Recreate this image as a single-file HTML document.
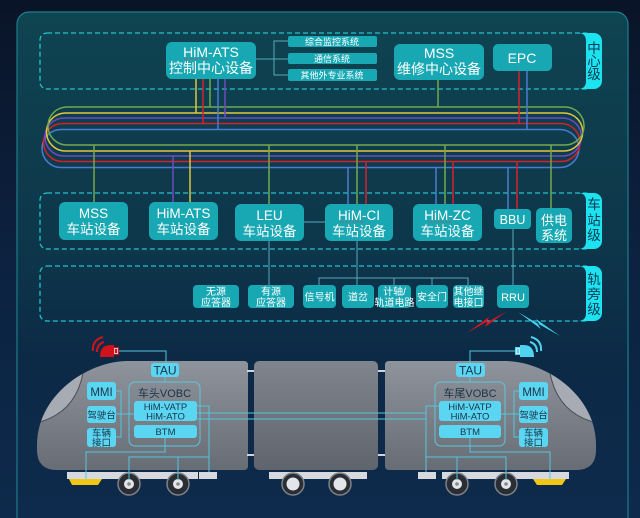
<!DOCTYPE html>
<html><head><meta charset="utf-8">
<style>
html,body{margin:0;padding:0;background:#0a1630;}
svg{display:block;}
text{font-family:"Liberation Sans","Noto Sans CJK SC",sans-serif;}
</style></head>
<body>
<svg width="640" height="518" viewBox="0 0 640 518" xmlns="http://www.w3.org/2000/svg">
<defs>
<linearGradient id="bg" x1="0" y1="0" x2="0" y2="1">
<stop offset="0" stop-color="#0a1428"/><stop offset="0.5" stop-color="#0c2240"/><stop offset="1" stop-color="#0d2a4c"/>
</linearGradient>
<linearGradient id="panel" x1="0" y1="0" x2="0" y2="1">
<stop offset="0" stop-color="#0f4451"/><stop offset="0.45" stop-color="#0d364a"/><stop offset="0.65" stop-color="#0c2a46"/><stop offset="1" stop-color="#0e2a4d"/>
</linearGradient>
<linearGradient id="car" x1="0" y1="0" x2="0" y2="1">
<stop offset="0" stop-color="#8f949c"/><stop offset="1" stop-color="#676c75"/>
</linearGradient>
<linearGradient id="car2" x1="0" y1="0" x2="0" y2="1">
<stop offset="0" stop-color="#7f848d"/><stop offset="1" stop-color="#5f646d"/>
</linearGradient>
<clipPath id="c1"><path d="M128 361 H244 Q248 361 248 365 V466 Q248 470 244 470 H57 Q37 470 37 450 V445 C37 395 88 361 128 361 Z"/></clipPath>
<clipPath id="c3"><path d="M505 361 H389 Q385 361 385 365 V466 Q385 470 389 470 H576 Q596 470 596 450 V445 C596 395 545 361 505 361 Z"/></clipPath>
</defs>

<rect width="640" height="518" fill="url(#bg)"/>
<rect x="17" y="12" width="611" height="530" rx="12" fill="url(#panel)" stroke="#1b7d8c" stroke-width="1.2"/>

<!-- dashed level boxes -->
<g fill="none" stroke="#22c3cf" stroke-width="1.3" stroke-dasharray="5 3">
<rect x="40" y="33" width="552" height="56" rx="7"/>
<rect x="40" y="193" width="552" height="56" rx="7"/>
<rect x="40" y="266" width="552" height="55" rx="7"/>
</g>
<!-- tabs -->
<g fill="#1de3f0">
<path d="M578 33 H594 A8 8 0 0 1 602 41 V81 A8 8 0 0 1 594 89 H578 Q586 89 586 81 V41 Q586 33 578 33 Z"/>
<path d="M578 193 H594 A8 8 0 0 1 602 201 V241 A8 8 0 0 1 594 249 H578 Q586 249 586 241 V201 Q586 193 578 193 Z"/>
<path d="M578 266 H594 A8 8 0 0 1 602 274 V313 A8 8 0 0 1 594 321 H578 Q586 321 586 313 V274 Q586 266 578 266 Z"/>
</g>
<g fill="#0b3a55" font-size="13.5" text-anchor="middle">
<text x="594" y="53">中</text><text x="594" y="66">心</text><text x="594" y="79">级</text>
<text x="594" y="209">车</text><text x="594" y="225">站</text><text x="594" y="240">级</text>
<text x="594" y="284">轨</text><text x="594" y="299">旁</text><text x="594" y="314">级</text>
</g>

<!-- loops -->
<g fill="none" stroke-width="1.5">
<path stroke="#4b7bd0" d="M61 129.5 H560 A19 19 0 0 1 560 167.5 H61 A19 19 0 0 1 61 129.5 Z"/>
<path stroke="#d81f2c" d="M62.5 123.5 H561 A19 19 0 0 1 561 161.5 H62.5 A19 19 0 0 1 62.5 123.5 Z"/>
<path stroke="#6d4bc0" d="M64 118 H562.4 A19 19 0 0 1 562.4 156 H64 A19 19 0 0 1 64 118 Z"/>
<path stroke="#e3c53c" d="M65.5 113 H563.7 A19 19 0 0 1 563.7 151 H65.5 A19 19 0 0 1 65.5 113 Z"/>
<path stroke="#72a94c" d="M67 107 H565 A19 19 0 0 1 565 145 H67 A19 19 0 0 1 67 107 Z"/>
</g>

<!-- vertical drops -->
<g stroke-width="1.5" fill="none">
<!-- center -->
<line x1="196" y1="79" x2="196" y2="113" stroke="#e3c53c"/>
<line x1="203" y1="79" x2="203" y2="123.5" stroke="#d81f2c"/>
<line x1="210" y1="79" x2="210" y2="107" stroke="#72a94c"/>
<line x1="218" y1="79" x2="218" y2="129.5" stroke="#4b7bd0"/>
<line x1="225" y1="79" x2="225" y2="118" stroke="#6d4bc0"/>
<line x1="438" y1="80" x2="438" y2="107" stroke="#72a94c"/>
<line x1="519" y1="71" x2="519" y2="123.5" stroke="#d81f2c"/>
<line x1="527" y1="71" x2="527" y2="129.5" stroke="#4b7bd0"/>
<!-- station -->
<line x1="94" y1="145" x2="94" y2="202" stroke="#72a94c"/>
<line x1="173" y1="156" x2="173" y2="202" stroke="#6d4bc0"/>
<line x1="190" y1="151" x2="190" y2="202" stroke="#e3c53c"/>
<line x1="269" y1="145" x2="269" y2="204" stroke="#72a94c"/>
<line x1="348" y1="167.5" x2="348" y2="204" stroke="#4b7bd0"/>
<line x1="357" y1="145" x2="357" y2="204" stroke="#72a94c"/>
<line x1="366" y1="161.5" x2="366" y2="204" stroke="#d81f2c"/>
<line x1="436" y1="167.5" x2="436" y2="204" stroke="#4b7bd0"/>
<line x1="445" y1="145" x2="445" y2="204" stroke="#72a94c"/>
<line x1="453" y1="161.5" x2="453" y2="204" stroke="#d81f2c"/>
<line x1="508" y1="167.5" x2="508" y2="209" stroke="#4b7bd0"/>
<line x1="517" y1="161.5" x2="517" y2="209" stroke="#d81f2c"/>
<line x1="551" y1="145" x2="551" y2="208" stroke="#72a94c"/>
</g>

<!-- thin connectors -->
<g stroke="#5aa9b8" stroke-width="1" fill="none">
<polyline points="256,59 274,59"/>
<polyline points="288,41 274,41 274,75 288,75"/>
<line x1="274" y1="59" x2="288" y2="59"/>
<line x1="304" y1="222" x2="325" y2="222"/>
<line x1="269" y1="241" x2="269" y2="285"/>
<line x1="357" y1="241" x2="357" y2="285"/>
<polyline points="319,285 319,278 468,278 468,285"/>
<line x1="394" y1="278" x2="394" y2="285"/>
<line x1="432" y1="278" x2="432" y2="285"/>
<line x1="513" y1="229" x2="513" y2="285"/>
</g>

<!-- center boxes -->
<g fill="#18a8b4">
<rect x="166" y="42" width="90" height="37" rx="6"/>
<rect x="394" y="44" width="90" height="36" rx="6"/>
<rect x="493" y="44" width="59" height="27" rx="5"/>
<rect x="288" y="36" width="89" height="11" rx="2"/>
<rect x="288" y="53" width="89" height="11" rx="2"/>
<rect x="288" y="69" width="89" height="12" rx="2"/>
</g>
<g fill="#fff" text-anchor="middle">
<text x="211" y="57" font-size="14">HiM-ATS</text>
<text x="211" y="73" font-size="14">控制中心设备</text>
<text x="439" y="58" font-size="14">MSS</text>
<text x="439" y="74" font-size="14">维修中心设备</text>
<text x="522" y="63" font-size="14">EPC</text>
<text x="332" y="45" font-size="9">综合监控系统</text>
<text x="332" y="62" font-size="9">通信系统</text>
<text x="332" y="78.5" font-size="9">其他外专业系统</text>
</g>

<!-- station boxes -->
<g fill="#18a8b4">
<rect x="59" y="202" width="69" height="38" rx="6"/>
<rect x="149" y="202" width="69" height="38" rx="6"/>
<rect x="235" y="204" width="69" height="37" rx="6"/>
<rect x="325" y="204" width="68" height="37" rx="6"/>
<rect x="413" y="204" width="69" height="37" rx="6"/>
<rect x="494" y="209" width="37" height="20" rx="4"/>
<rect x="536" y="208" width="36" height="35" rx="5"/>
</g>
<g fill="#fff" text-anchor="middle" font-size="13.5">
<text x="93.5" y="218">MSS</text><text x="93.5" y="234">车站设备</text>
<text x="183.5" y="218">HiM-ATS</text><text x="183.5" y="234">车站设备</text>
<text x="269.5" y="220">LEU</text><text x="269.5" y="236">车站设备</text>
<text x="359" y="220">HiM-CI</text><text x="359" y="236">车站设备</text>
<text x="447.5" y="220">HiM-ZC</text><text x="447.5" y="236">车站设备</text>
<text x="512.5" y="224" font-size="12.5">BBU</text>
<text x="554" y="225" font-size="13">供电</text><text x="554" y="240" font-size="13">系统</text>
</g>
<!-- spellcheck squiggles -->
<g stroke="#d04040" stroke-width="0.8" fill="none" stroke-dasharray="1.5 1">
<line x1="184" y1="59" x2="208" y2="59"/>
<line x1="340" y1="222" x2="364" y2="222"/>
<line x1="428" y1="222" x2="452" y2="222"/>
</g>

<!-- trackside boxes -->
<g fill="#18a8b4">
<rect x="193" y="285" width="46" height="23" rx="4"/>
<rect x="248" y="285" width="46" height="23" rx="4"/>
<rect x="303" y="285" width="33" height="23" rx="4"/>
<rect x="342" y="285" width="32" height="23" rx="4"/>
<rect x="378" y="285" width="33" height="23" rx="4"/>
<rect x="416" y="285" width="32" height="23" rx="4"/>
<rect x="453" y="285" width="31" height="23" rx="4"/>
<rect x="497" y="285" width="32" height="23" rx="4"/>
</g>
<g fill="#fff" text-anchor="middle" font-size="10">
<text x="216" y="295">无源</text><text x="216" y="306">应答器</text>
<text x="271" y="295">有源</text><text x="271" y="306">应答器</text>
<text x="319.5" y="300.5">信号机</text>
<text x="358" y="300.5">道岔</text>
<text x="394.5" y="295">计轴/</text><text x="394.5" y="306">轨道电路</text>
<text x="432" y="300.5">安全门</text>
<text x="468.5" y="295">其他继</text><text x="468.5" y="306">电接口</text>
<text x="513" y="301" font-size="11">RRU</text>
</g>

<!-- bolts -->
<path d="M467 333 L489 317 L486 323 L507 311 L485 327 L488 321 Z" fill="#e0141e"/>
<path d="M518 312 L540 325 L536 319 L560 336 L537 323 L541 329 Z" fill="#45d4f0"/>

<!-- train car 1 -->
<path d="M128 361 H244 Q248 361 248 365 V466 Q248 470 244 470 H57 Q37 470 37 450 V445 C37 395 88 361 128 361 Z" fill="url(#car)"/>
<path clip-path="url(#c1)" d="M92 360 L28 360 L28 426 L43 421 Q76 410 83 373 Z" fill="#a7abb3" stroke="#4a4e55" stroke-width="1"/>
<!-- car 2 -->
<rect x="254" y="361" width="124" height="109" rx="5" fill="url(#car2)"/>
<!-- car 3 -->
<path d="M505 361 H389 Q385 361 385 365 V466 Q385 470 389 470 H576 Q596 470 596 450 V445 C596 395 545 361 505 361 Z" fill="url(#car)"/>
<path clip-path="url(#c3)" d="M541 360 L605 360 L605 426 L590 421 Q557 410 550 373 Z" fill="#a7abb3" stroke="#4a4e55" stroke-width="1"/>
<!-- couplers -->
<g fill="#d0d4d8">
<rect x="247" y="370" width="7" height="2"/><rect x="247" y="454" width="7" height="2"/>
<rect x="378" y="370" width="7" height="2"/><rect x="378" y="454" width="7" height="2"/>
</g>
<!-- undercarriage -->
<g fill="#d6dade">
<rect x="67" y="472" width="131" height="7"/>
<rect x="199" y="472" width="18" height="7"/>
<rect x="269" y="472" width="98" height="7"/>
<rect x="418" y="472" width="18" height="7"/>
<rect x="442" y="472" width="127" height="7"/>
</g>
<path d="M69 479 H102 L98 485 H72 Z" fill="#f0c814"/>
<path d="M533 479 H566 L562 485 H537 Z" fill="#f0c814"/>
<!-- wheels -->
<g stroke="#7e8388" stroke-width="1.5" fill="#2a2e34">
<circle cx="129" cy="484" r="11"/><circle cx="178" cy="484" r="11"/>
<circle cx="293" cy="484" r="11"/><circle cx="340" cy="484" r="11"/>
<circle cx="457" cy="484" r="11"/><circle cx="506" cy="484" r="11"/>
</g>
<g fill="#e2e6ea">
<circle cx="129" cy="484" r="5"/><circle cx="178" cy="484" r="5"/>
<circle cx="293" cy="484" r="6.5"/><circle cx="340" cy="484" r="6.5"/>
<circle cx="457" cy="484" r="5"/><circle cx="506" cy="484" r="5"/>
</g>
<g fill="#888">
<circle cx="129" cy="484" r="1.8"/><circle cx="178" cy="484" r="1.8"/>
<circle cx="457" cy="484" r="1.8"/><circle cx="506" cy="484" r="1.8"/>
</g>

<!-- train connectors -->
<g stroke="#54c6de" stroke-width="1" fill="none">
<polyline points="119,351 166,351 166,363"/>
<line x1="165" y1="377" x2="165" y2="382"/>
<polyline points="116,391 121,391 121,437 116,437"/>
<line x1="116" y1="414" x2="134" y2="414"/>
<polyline points="197,406 209,406 209,472"/>
<line x1="197" y1="413" x2="426" y2="413"/>
<line x1="197" y1="419" x2="426" y2="419"/>
<polyline points="165,438 165,452 86,452 86,479"/>
<polyline points="129,480 129,457 209,457"/>
<line x1="178" y1="457" x2="178" y2="480"/>
<polyline points="515,351 470,351 470,363"/>
<line x1="470" y1="377" x2="470" y2="382"/>
<polyline points="519,391 514,391 514,437 519,437"/>
<line x1="501" y1="414" x2="519" y2="414"/>
<polyline points="439,406 426,406 426,472"/>
<polyline points="470,438 470,452 550,452 550,479"/>
<polyline points="426,457 506,457 506,480"/>
<line x1="457" y1="457" x2="457" y2="480"/>
</g>
<!-- VOBC frames -->
<rect x="129" y="382" width="71" height="64" rx="6" fill="none" stroke="#5cc6dc" stroke-width="1"/>
<rect x="435" y="382" width="70" height="64" rx="6" fill="none" stroke="#5cc6dc" stroke-width="1"/>
<!-- train boxes -->
<g fill="#5ad6f2">
<rect x="151" y="363" width="28" height="14" rx="3"/>
<rect x="456" y="363" width="29" height="14" rx="3"/>
<rect x="87" y="382" width="29" height="18" rx="3"/>
<rect x="87" y="406" width="29" height="17" rx="3"/>
<rect x="87" y="428" width="29" height="19" rx="3"/>
<rect x="519" y="382" width="29" height="18" rx="3"/>
<rect x="519" y="406" width="29" height="17" rx="3"/>
<rect x="519" y="428" width="29" height="19" rx="3"/>
<rect x="134" y="401" width="63" height="20" rx="3"/>
<rect x="134" y="425" width="63" height="13" rx="3"/>
<rect x="439" y="401" width="62" height="20" rx="3"/>
<rect x="439" y="425" width="62" height="13" rx="3"/>
</g>
<g fill="#1b3448" text-anchor="middle">
<text x="165" y="374.5" font-size="12">TAU</text>
<text x="470.5" y="374.5" font-size="12">TAU</text>
<text x="101.5" y="396" font-size="11.5">MMI</text>
<text x="533.5" y="396" font-size="11.5">MMI</text>
<text x="101.5" y="418.5" font-size="9.5">驾驶台</text>
<text x="533.5" y="418.5" font-size="9.5">驾驶台</text>
<text x="101.5" y="436.5" font-size="9.5">车辆</text><text x="101.5" y="446" font-size="9.5">接口</text>
<text x="533.5" y="436.5" font-size="9.5">车辆</text><text x="533.5" y="446" font-size="9.5">接口</text>
<text x="164.5" y="397" font-size="11">车头VOBC</text>
<text x="470" y="397" font-size="11">车尾VOBC</text>
<text x="165.5" y="410" font-size="9.5">HiM-VATP</text><text x="165.5" y="419.5" font-size="9.5">HiM-ATO</text>
<text x="470" y="410" font-size="9.5">HiM-VATP</text><text x="470" y="419.5" font-size="9.5">HiM-ATO</text>
<text x="165.5" y="435" font-size="9.5">BTM</text>
<text x="470" y="435" font-size="9.5">BTM</text>
</g>

<!-- antenna icons -->
<g fill="#d0121c">
<path d="M100 357 Q100 345 110 345 H114 V357 Z"/>
<rect x="113" y="347" width="6" height="8"/>
</g>
<rect x="114.5" y="348.5" width="3" height="5" fill="none" stroke="#f0e0e0" stroke-width="0.8"/>
<g fill="none" stroke="#d0121c" stroke-width="2">
<path d="M97 352 Q97 344 104 342"/>
<path d="M93 351 Q92 340 103 337"/>
</g>
<g fill="#4fd3f0">
<path d="M534 357 Q534 345 524 345 H520 V357 Z"/>
<rect x="515" y="347" width="6" height="8"/>
</g>
<rect x="516.5" y="348.5" width="3" height="5" fill="none" stroke="#e0f6fa" stroke-width="0.8"/>
<g fill="none" stroke="#4fd3f0" stroke-width="2">
<path d="M537 352 Q537 344 530 342"/>
<path d="M541 351 Q542 340 531 337"/>
</g>
</svg>
</body></html>
